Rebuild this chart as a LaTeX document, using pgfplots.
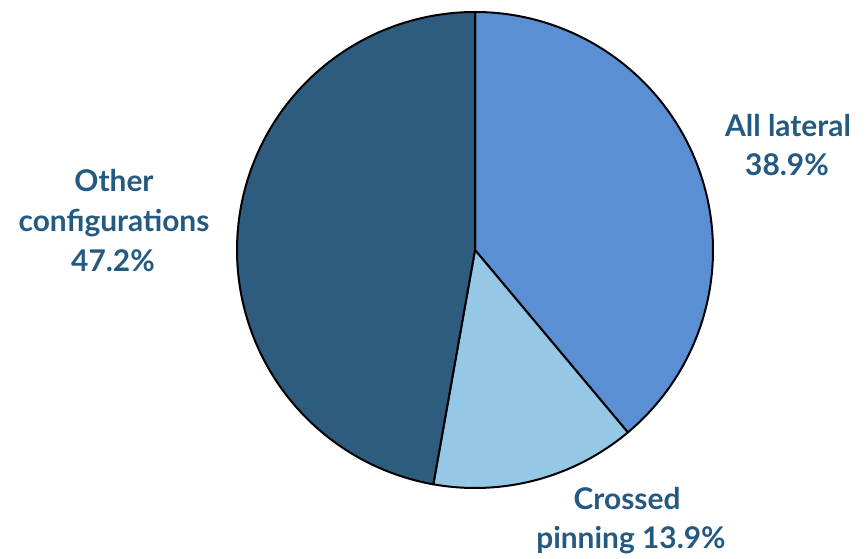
\documentclass[border=0pt]{standalone}
\usepackage{fontspec}
\setmainfont{Lato}
\usepackage{pgfplots}
\usepackage{pgfplotstable}
\pgfplotsset{compat=1.18}
\definecolor{cLat}{RGB}{91,143,212}
\definecolor{cCross}{RGB}{148,200,230}
\definecolor{cOther}{RGB}{46,92,126}
\definecolor{cText}{RGB}{36,90,130}
\tikzset{lbl/.style={font=\fontsize{30}{36}\selectfont\bfseries, text=cText, anchor=base, inner sep=0pt}}
\pgfplotstableread{
label value
lateral 38.9
crossed 13.9
other 47.2
}\piedata
\begin{document}
\begin{tikzpicture}
\pgfplotstablegetelem{0}{value}\of\piedata \let\va\pgfplotsretval
\pgfplotstablegetelem{1}{value}\of\piedata \let\vb\pgfplotsretval
\pgfplotstablegetelem{2}{value}\of\piedata \let\vc\pgfplotsretval
\pgfmathsetmacro{\aA}{90-3.6*\va}
\pgfmathsetmacro{\aB}{\aA-3.6*\vb}
\pgfmathsetmacro{\aC}{\aB-3.6*\vc}
\begin{axis}[
  scale only axis, width=865bp, height=559bp,
  xmin=0, xmax=865, ymin=0, ymax=559,
  axis lines=none, clip=false,
]
\addplot[fill=cLat, draw=black, line width=2bp, line join=round, domain=\aA:90, samples=150, variable=\t]
  ({475+238*cos(\t)},{309+238*sin(\t)}) -- (axis cs:475,309) -- cycle;
\addplot[fill=cCross, draw=black, line width=2bp, line join=round, domain=\aB:\aA, samples=80, variable=\t]
  ({475+238*cos(\t)},{309+238*sin(\t)}) -- (axis cs:475,309) -- cycle;
\addplot[fill=cOther, draw=black, line width=2bp, line join=round, domain=\aC:\aB, samples=180, variable=\t]
  ({475+238*cos(\t)},{309+238*sin(\t)}) -- (axis cs:475,309) -- cycle;
\node[lbl] at (axis cs:788,422) {All lateral};
\node[lbl] at (axis cs:787,383) {38.9\%};
\node[lbl] at (axis cs:114,367) {Other};
\node[lbl] at (axis cs:114,327) {configurations};
\node[lbl] at (axis cs:113,287) {47.2\%};
\node[lbl] at (axis cs:627,49) {Crossed};
\node[lbl] at (axis cs:631,11) {pinning 13.9\%};
\end{axis}
\path[use as bounding box] (0,0) rectangle (865bp,559bp);
\end{tikzpicture}
\end{document}
